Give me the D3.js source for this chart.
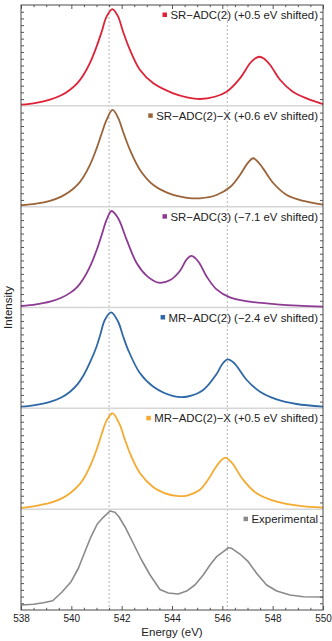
<!DOCTYPE html>
<html>
<head>
<meta charset="utf-8">
<script src="https://cdn.jsdelivr.net/npm/d3@7"></script>
<style>
  body { margin: 0; background: #fff; }
  text { font-family: "Liberation Sans", Arial, sans-serif; }
</style>
</head>
<body>
<div id="chart"></div>
<script>
const width = 332;
const height = 641;
const margin = {top: 5, right: 9, bottom: 31, left: 21};

// series labels, top to bottom
const labels = [
    "SR\u2212ADC(2) (+0.5 eV shifted)",
    "SR\u2212ADC(2)\u2212X (+0.6 eV shifted)",
    "SR\u2212ADC(3) (\u22127.1 eV shifted)",
    "MR\u2212ADC(2) (\u22122.4 eV shifted)",
    "MR\u2212ADC(2)\u2212X (+0.5 eV shifted)",
    "Experimental"
];
const colors = ["#de2237", "#9b6338", "#8d3b92", "#2e68a6", "#f5ab31", "#8a8a8a"];

// [energy (eV), normalized intensity]
const srAdc2 = [
    [538.0, 0.011], [538.6, 0.03], [539.15, 0.062], [539.6, 0.105], [539.95, 0.16],
    [540.25, 0.228], [540.48, 0.305], [540.75, 0.43], [541.0, 0.586], [541.2, 0.73],
    [541.4, 0.884], [541.63, 0.96], [541.85, 0.89], [542.05, 0.74], [542.33, 0.554],
    [542.73, 0.355], [543.26, 0.223], [544.05, 0.124], [544.6, 0.085], [545.11, 0.068],
    [545.7, 0.09], [546.17, 0.14], [546.7, 0.273], [547.1, 0.422], [547.3, 0.47],
    [547.47, 0.487], [547.65, 0.47], [547.9, 0.405], [548.3, 0.256], [548.8, 0.14],
    [549.35, 0.074], [550.0, 0.018]
];
const srAdc2x = [
    [538.0, 0.014], [538.6, 0.03], [539.15, 0.058], [539.6, 0.1], [539.95, 0.152],
    [540.25, 0.218], [540.48, 0.295], [540.75, 0.42], [541.0, 0.575], [541.2, 0.72],
    [541.4, 0.86], [541.64, 0.959], [541.86, 0.88], [542.06, 0.74], [542.33, 0.563],
    [542.73, 0.364], [543.26, 0.215], [544.05, 0.116], [544.6, 0.088], [545.11, 0.083],
    [545.77, 0.116], [546.3, 0.192], [546.7, 0.314], [547.0, 0.43], [547.23, 0.48],
    [547.45, 0.435], [547.63, 0.375], [548.03, 0.232], [548.56, 0.116], [549.22, 0.057],
    [550.0, 0.02]
];
const srAdc3 = [
    [538.0, 0.015], [538.6, 0.032], [539.15, 0.058], [539.6, 0.097], [539.95, 0.145],
    [540.25, 0.208], [540.48, 0.285], [540.75, 0.41], [541.0, 0.565], [541.2, 0.715],
    [541.4, 0.868], [541.6, 0.957], [541.86, 0.885], [542.2, 0.67], [542.6, 0.438],
    [543.0, 0.313], [543.46, 0.246], [543.93, 0.273], [544.32, 0.365], [544.59, 0.48],
    [544.78, 0.511], [545.05, 0.454], [545.38, 0.306], [545.77, 0.18], [546.3, 0.101],
    [547.1, 0.058], [548.16, 0.032], [549.0, 0.018], [550.0, 0.008]
];
const mrAdc2 = [
    [538.0, 0.016], [538.6, 0.035], [539.15, 0.064], [539.6, 0.108], [539.95, 0.165],
    [540.25, 0.24], [540.48, 0.325], [540.75, 0.46], [541.0, 0.611], [541.15, 0.73],
    [541.33, 0.876], [541.58, 0.952], [541.86, 0.859], [542.05, 0.72], [542.26, 0.578],
    [542.73, 0.347], [543.26, 0.214], [544.05, 0.122], [544.58, 0.115], [545.24, 0.182],
    [545.77, 0.34], [546.0, 0.44], [546.21, 0.486], [546.42, 0.46], [546.57, 0.42],
    [546.97, 0.281], [547.5, 0.165], [548.16, 0.089], [548.95, 0.043], [550.0, 0.016]
];
const mrAdc2x = [
    [538.0, 0.012], [538.6, 0.033], [539.15, 0.062], [539.6, 0.104], [539.95, 0.158],
    [540.25, 0.225], [540.48, 0.3], [540.75, 0.43], [541.0, 0.587], [541.2, 0.74],
    [541.4, 0.878], [541.64, 0.951], [541.93, 0.835], [542.1, 0.71], [542.33, 0.555],
    [542.73, 0.356], [543.26, 0.217], [543.7, 0.16], [544.18, 0.131], [544.6, 0.135],
    [545.1, 0.19], [545.38, 0.273], [545.7, 0.4], [545.9, 0.47], [546.12, 0.511],
    [546.3, 0.48], [546.43, 0.445], [546.83, 0.29], [547.36, 0.158], [548.16, 0.074],
    [549.09, 0.032], [550.0, 0.015]
];
const experimental = [
    [538.0, 0.05], [538.49, 0.057], [538.89, 0.072], [539.26, 0.092], [539.62, 0.176],
    [539.99, 0.281], [540.28, 0.414], [540.54, 0.578], [540.77, 0.721], [541.03, 0.853],
    [541.27, 0.919], [541.54, 0.982], [541.73, 0.969], [541.89, 0.925], [542.13, 0.826],
    [542.46, 0.662], [542.79, 0.496], [543.13, 0.347], [543.52, 0.203], [543.85, 0.169],
    [544.25, 0.159], [544.58, 0.188], [544.91, 0.248], [545.24, 0.347], [545.51, 0.446],
    [545.77, 0.529], [546.04, 0.578], [546.24, 0.618], [546.37, 0.612], [546.7, 0.555],
    [547.03, 0.479], [547.36, 0.364], [547.76, 0.248], [548.16, 0.188], [548.69, 0.149],
    [549.22, 0.132], [550.0, 0.129]
];
const series = [srAdc2, srAdc2x, srAdc3, mrAdc2, mrAdc2x, experimental];

const xTicks = [538, 540, 542, 544, 546, 548, 550];
const refLines = [541.5, 546.2];

const innerW = width - margin.left - margin.right;
const innerH = height - margin.top - margin.bottom;
const panelH = innerH / series.length;

const x = globalThis.d3.scaleLinear().domain([538, 550]).range([0, innerW]);

const svg = globalThis.d3.select('#chart')
    .append('svg')
    .attr('width', width)
    .attr('height', height);

const g = svg.append('g')
    .attr('transform', `translate(${margin.left},${margin.top})`);

// dotted reference lines
g.selectAll('.ref')
    .data(refLines)
    .join('line')
    .attr('x1', d => x(d)).attr('x2', d => x(d))
    .attr('y1', 0).attr('y2', innerH)
    .attr('stroke', '#c2c2c2')
    .attr('stroke-width', 1.2)
    .attr('stroke-dasharray', '2,2');

// panel separators
g.selectAll('.sep')
    .data(globalThis.d3.range(1, series.length))
    .join('line')
    .attr('x1', 0).attr('x2', innerW)
    .attr('y1', d => d * panelH).attr('y2', d => d * panelH)
    .attr('stroke', '#d6d6d6')
    .attr('stroke-width', 1.5);

series.forEach((data, i) => {
    const top = i * panelH;
    const y = globalThis.d3.scaleLinear().domain([0, 1]).range([top + panelH, top]);
    const isExp = i === series.length - 1;

    const line = globalThis.d3.line()
        .x(d => x(d[0]))
        .y(d => y(d[1]))
        .curve(isExp ? globalThis.d3.curveLinear : globalThis.d3.curveCatmullRom.alpha(0.5));

    g.append('path')
        .datum(data)
        .attr('d', line)
        .attr('fill', 'none')
        .attr('stroke', colors[i])
        .attr('stroke-width', isExp ? 1.6 : 1.8)
        .attr('stroke-linejoin', 'round');

    // legend
    const lt = g.append('text')
        .attr('x', innerW - 5)
        .attr('y', top + 14)
        .attr('text-anchor', 'end')
        .attr('font-size', '11.4px')
        .attr('fill', '#222')
        .text(labels[i]);
    const tw = lt.node().getComputedTextLength();
    g.append('rect')
        .attr('x', innerW - 5 - tw - 8)
        .attr('y', top + 7.5)
        .attr('width', 4.5)
        .attr('height', 4.5)
        .attr('fill', colors[i]);

    // left / right ticks
    const yt = globalThis.d3.range(1, 15).map(k => k / 15);
    g.append('g')
        .call(globalThis.d3.axisLeft(y).tickValues(yt).tickSizeInner(-3).tickSizeOuter(0).tickFormat(''))
        .call(s => s.select('.domain').remove())
        .selectAll('line').attr('stroke', '#555');
    g.append('g')
        .attr('transform', `translate(${innerW},0)`)
        .call(globalThis.d3.axisRight(y).tickValues(yt).tickSizeInner(-3).tickSizeOuter(0).tickFormat(''))
        .call(s => s.select('.domain').remove())
        .selectAll('line').attr('stroke', '#555');
});

// x axes
const minor = globalThis.d3.range(538.5, 550, 0.5).filter(v => v % 2 !== 0);

const bottom = g.append('g')
    .attr('transform', `translate(0,${innerH})`)
    .call(globalThis.d3.axisBottom(x).tickValues(xTicks).tickSizeInner(-4).tickSizeOuter(0).tickPadding(4.5)
        .tickFormat(globalThis.d3.format('d')));
bottom.select('.domain').remove();
bottom.selectAll('line').attr('stroke', '#555');
bottom.selectAll('text').attr('font-size', '10px').attr('fill', '#222')
    .attr('font-family', '"Liberation Sans", Arial, sans-serif');

g.append('g')
    .attr('transform', `translate(0,${innerH})`)
    .call(globalThis.d3.axisBottom(x).tickValues(minor).tickSizeInner(-2.2).tickSizeOuter(0).tickFormat(''))
    .call(s => s.select('.domain').remove())
    .selectAll('line').attr('stroke', '#555');

g.append('g')
    .call(globalThis.d3.axisTop(x).tickValues(xTicks).tickSizeInner(-4).tickSizeOuter(0).tickFormat(''))
    .call(s => s.select('.domain').remove())
    .selectAll('line').attr('stroke', '#555');
g.append('g')
    .call(globalThis.d3.axisTop(x).tickValues(minor).tickSizeInner(-2.2).tickSizeOuter(0).tickFormat(''))
    .call(s => s.select('.domain').remove())
    .selectAll('line').attr('stroke', '#555');

// frame
g.append('rect')
    .attr('x', 0).attr('y', 0)
    .attr('width', innerW).attr('height', innerH)
    .attr('fill', 'none')
    .attr('stroke', '#4a4a4a')
    .attr('stroke-width', 1);

// axis titles
svg.append('text')
    .attr('x', margin.left + innerW / 2)
    .attr('y', 636)
    .attr('text-anchor', 'middle')
    .attr('font-size', '11.5px')
    .attr('fill', '#222')
    .text('Energy (eV)');

svg.append('text')
    .attr('transform', `translate(11.7,${margin.top + innerH / 2}) rotate(-90)`)
    .attr('text-anchor', 'middle')
    .attr('font-size', '11.5px')
    .attr('fill', '#222')
    .text('Intensity');
</script>
</body>
</html>
